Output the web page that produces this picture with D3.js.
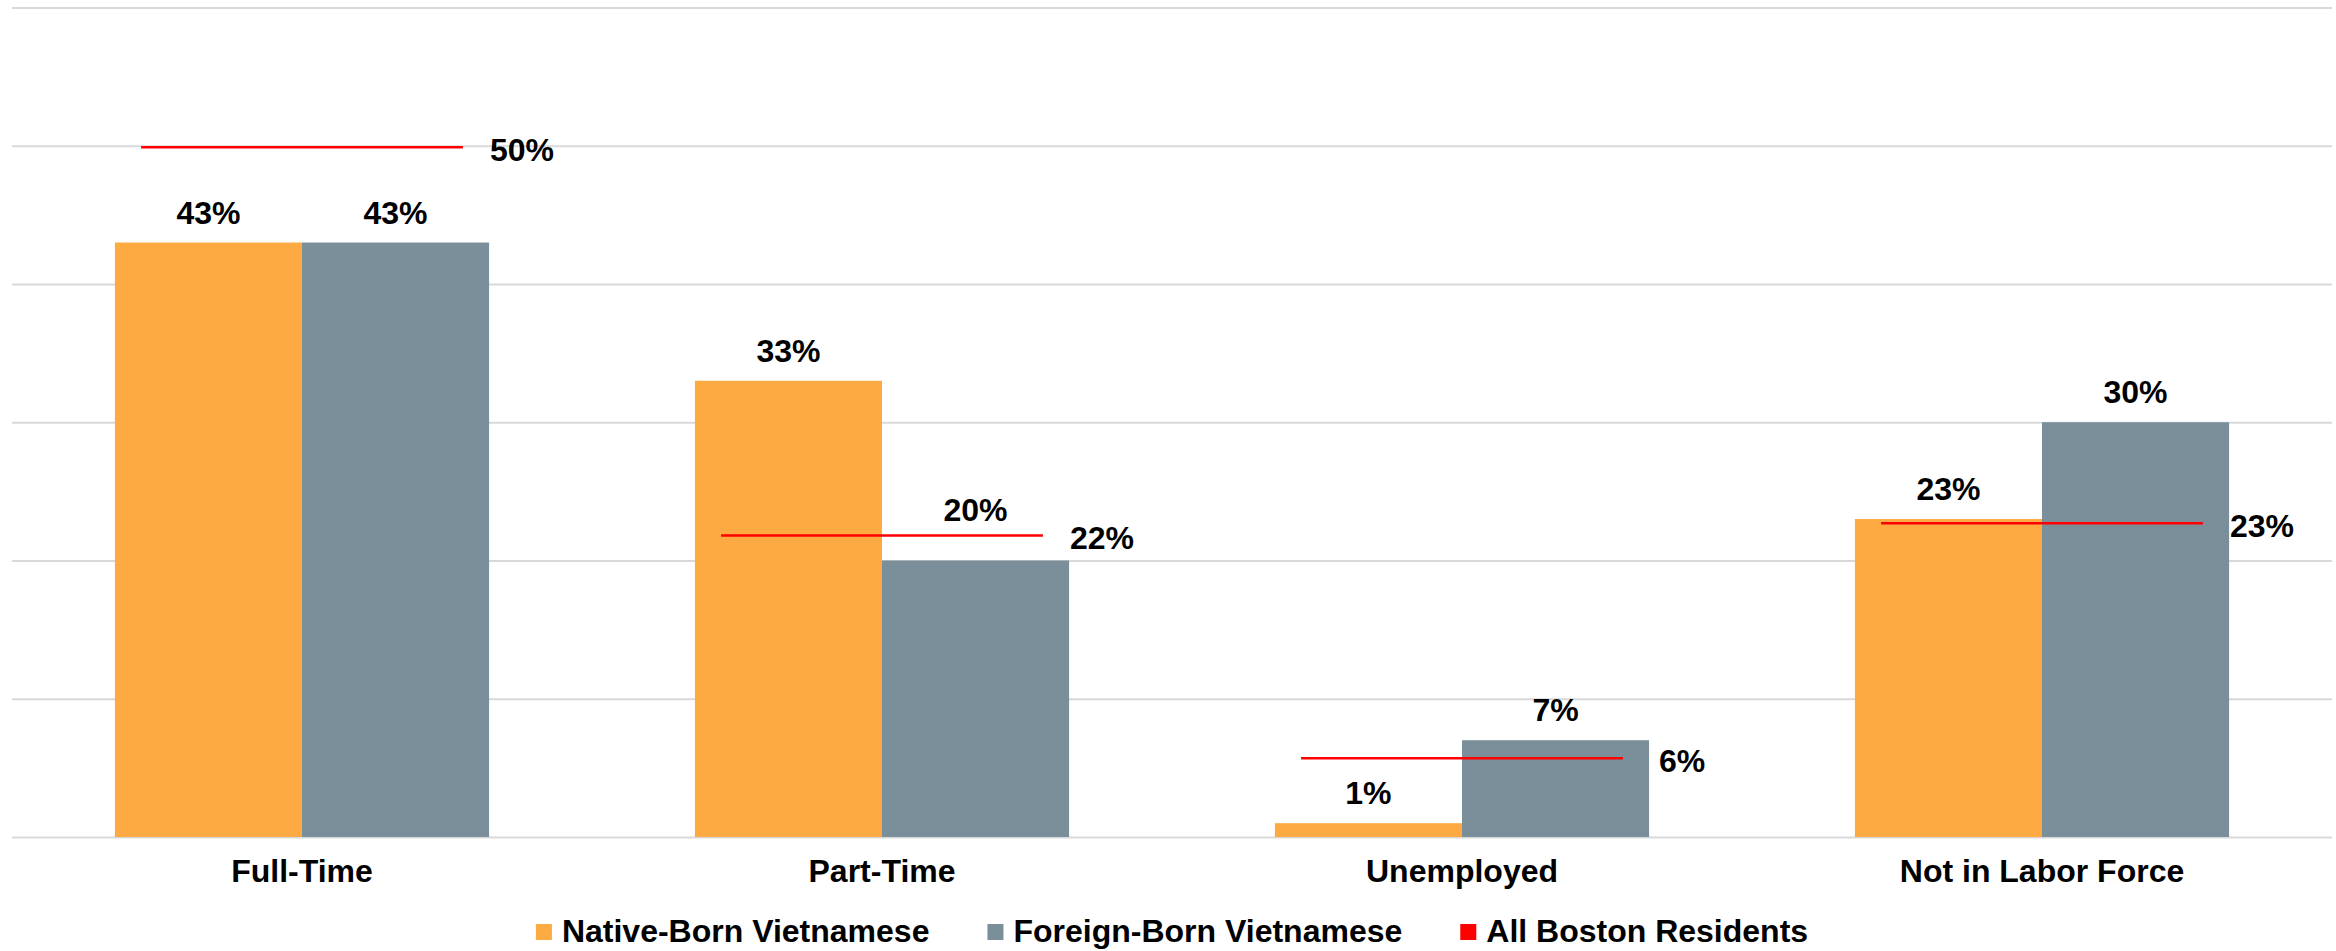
<!DOCTYPE html>
<html>
<head>
<meta charset="utf-8">
<script src="https://cdn.jsdelivr.net/npm/d3@7"></script>
<style>
  body { margin: 0; background: #fff; }
  text { font-family: "Liberation Sans", Arial, sans-serif; font-weight: bold; fill: #000; }
</style>
</head>
<body>
<div id="root"></div>
<script>
const width = 2336;
const height = 951;

// data
const categories = ["Full-Time", "Part-Time", "Unemployed", "Not in Labor Force"];
const seriesNames = ["Native-Born Vietnamese", "Foreign-Born Vietnamese", "All Boston Residents"];
const nativeBorn = [0.43, 0.33, 0.01, 0.23];
const foreignBorn = [0.43, 0.20, 0.07, 0.30];
const bostonAll = [0.499, 0.218, 0.057, 0.227];
const yTicks = [0, 0.1, 0.2, 0.3, 0.4, 0.5, 0.6];

const colors = ["#FDAA42", "#7A8F9A", "#FF0000"];
const pct = d3.format(".0%");

const plot = { left: 12, right: 2332, top: 7.5, bottom: 837 };

const svg = d3.select("#root")
    .append("svg")
    .attr("width", width)
    .attr("height", height);

const x0 = d3.scaleBand()
    .domain(categories)
    .range([plot.left, plot.right]);

const x1 = d3.scaleBand()
    .domain([0, 1])
    .range([0, x0.bandwidth()])
    .paddingOuter(0.55);

const y = d3.scaleLinear()
    .domain([0, 0.6])
    .range([plot.bottom, plot.top]);

// gridlines
const grid = svg.append("g")
    .attr("transform", `translate(${plot.left},0)`)
    .call(d3.axisLeft(y).tickValues(yTicks).tickSize(-(plot.right - plot.left)).tickFormat(""));
grid.select(".domain").remove();
grid.selectAll("line").attr("stroke", "#d9d9d9").attr("stroke-width", 2);

// category axis
const xAxis = svg.append("g")
    .attr("transform", `translate(0,${plot.bottom})`)
    .call(d3.axisBottom(x0).tickSize(0).tickPadding(22));
xAxis.select(".domain").remove();
xAxis.selectAll("text")
    .attr("font-size", "32px")
    .attr("dy", "0.71em")
    .style("font-family", "'Liberation Sans', Arial, sans-serif")
    .style("font-weight", "bold")
    .attr("fill", "#000");

const rows = categories.map((c, i) => ({
    cat: c,
    vals: [nativeBorn[i], foreignBorn[i]],
    ref: bostonAll[i]
}));

const groups = svg.append("g")
    .selectAll("g")
    .data(rows)
    .enter().append("g")
    .attr("transform", (d) => `translate(${x0(d.cat)},0)`);

groups.selectAll("rect")
    .data((d) => d.vals.map((v, k) => ({ k: k, v: v })))
    .enter().append("rect")
    .attr("x", (d) => x1(d.k))
    .attr("width", x1.bandwidth())
    .attr("y", (d) => y(d.v))
    .attr("height", (d) => y(0) - y(d.v))
    .attr("fill", (d) => colors[d.k]);

// reference line for all Boston residents
const mid = x0.bandwidth() / 2;
const refHalf = x1.bandwidth() * 0.86;

groups.append("line")
    .attr("x1", mid - refHalf)
    .attr("x2", mid + refHalf)
    .attr("y1", (d) => y(d.ref))
    .attr("y2", (d) => y(d.ref))
    .attr("stroke", colors[2])
    .attr("stroke-width", 2.5);

groups.append("text")
    .attr("x", mid + 220)
    .attr("y", (d) => y(d.ref) + 13.5)
    .attr("text-anchor", "middle")
    .attr("font-size", "32px")
    .text((d) => pct(d.ref));

// bar value labels, pushed above the red line when they would sit on it
groups.selectAll(".val")
    .data((d) => d.vals.map((v, k) => ({ k: k, v: v, ref: d.ref })))
    .enter().append("text")
    .attr("class", "val")
    .attr("x", (d) => x1(d.k) + x1.bandwidth() / 2)
    .attr("y", (d) => {
        let base = y(d.v) - 19;
        const ry = y(d.ref);
        if (ry > base - 27 && ry < base + 5) base = ry - 15;
        return base;
    })
    .attr("text-anchor", "middle")
    .attr("font-size", "32px")
    .text((d) => pct(d.v));

// legend
const legend = svg.append("g");
const items = legend.selectAll("g")
    .data(seriesNames)
    .enter().append("g");

items.append("rect")
    .attr("y", 924)
    .attr("width", 16)
    .attr("height", 16)
    .attr("fill", (d, i) => colors[i]);

items.append("text")
    .attr("x", 26)
    .attr("y", 942)
    .attr("font-size", "32px")
    .text((d) => d);

let offset = 0;
const gap = 58;
items.each(function() {
    const w = 26 + d3.select(this).select("text").node().getComputedTextLength();
    d3.select(this).attr("transform", `translate(${offset},0)`);
    offset += w + gap;
});
const total = offset - gap;
legend.attr("transform", `translate(${(plot.left + plot.right) / 2 - total / 2},0)`);
</script>
</body>
</html>
